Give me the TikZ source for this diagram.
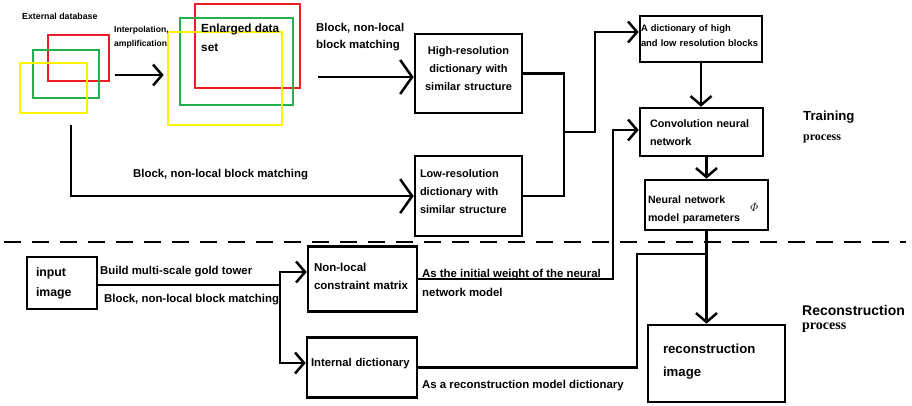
\documentclass[tikz,border=0pt]{standalone}
\usepackage{amsmath}
\usepackage{fontspec}
\setmainfont{Liberation Sans}
\newfontfamily\procfont{Liberation Serif}
\usepackage{tikz}
\usetikzlibrary{positioning,calc,arrows.meta}
\definecolor{pred}{RGB}{237,28,36}
\definecolor{pgreen}{RGB}{34,177,76}
\definecolor{pyellow}{RGB}{255,242,0}
\newcommand{\fsz}[2]{\fontsize{#1}{#2}\selectfont}
\tikzset{BOX/.style={rectangle,draw,line width=2.6pt,inner sep=0pt,align=left,text height=0pt,font=\bfseries}}
\tikzset{SQUARE/.style={rectangle,line width=2.6pt,inner sep=0pt}}
\tikzset{LABEL/.style={inner sep=0pt,anchor=base west,align=left,font=\bfseries\fsz{11.4}{17}}}
\tikzset{LINE/.style={line width=2.5pt}}
\tikzset{ARROW/.style={line width=2.5pt,-{Straight Barb[length=9pt,width=21pt]}}}
\tikzset{BARROW/.style={line width=2.5pt,-{Straight Barb[length=12pt,width=34pt]}}}

\begin{document}
\begin{tikzpicture}[x=1pt,y=-1pt]
\useasboundingbox (0,0) rectangle (912,406);

% external database, enlarged set
\node[LABEL,font=\bfseries\fsz{8.8}{10}] (n_ext_lbl) at (22,20) {External database};
\node[SQUARE,draw=pred,minimum width=61pt,minimum height=46pt] (n_ext_r) at (78.5,58) {};
\node[SQUARE,draw=pgreen,minimum width=66pt,minimum height=48pt] (n_ext_g) at (66,74) {};
\node[SQUARE,draw=pyellow,minimum width=67pt,minimum height=50pt] (n_ext_y) at (53.5,88) {};

\node[SQUARE,draw=pred,minimum width=105pt,minimum height=84pt] (n_big_r) at (247.5,46) {};
\node[SQUARE,draw=pgreen,minimum width=113pt,minimum height=87pt] (n_big_g) at (236.5,61.5) {};
\node[SQUARE,draw=pyellow,minimum width=114pt,minimum height=93pt] (n_big_y) at (225,78.5) {};
\node[LABEL,font=\bfseries\fsz{11.8}{19}] (n_big_lbl) at (201,52) {Enlarged data\\set};

\coordinate (c_interp_0) at (115,75);
\draw[ARROW] (c_interp_0) -- ($(c_interp_0 -| n_big_y.west)+(-3,0)$);
\node[LABEL,font=\bfseries\fsz{8.6}{14}] (n_interp_lbl) at (114,47) {Interpolation,\\amplification};

% dictionaries
\node[BOX,minimum width=107pt,minimum height=79pt,text width=99pt,align=center,text depth=37pt,font=\bfseries\fsz{11}{18}] (n_hr) at (468.5,73.5) {High-resolution\\dictionary with\\similar structure};
\node[BOX,minimum width=107pt,minimum height=80pt,text width=97pt,text depth=38pt,font=\bfseries\fsz{11}{18}, below=40.5pt of n_hr] (n_lr) {Low-resolution\\dictionary with\\similar structure};

\coordinate (c_blk_0) at (318,77);
\draw[BARROW] (c_blk_0) -- (c_blk_0 -| n_hr.west);
\node[LABEL] (n_blk_lbl) at (316,49) {Block, non-local\\block matching};

\coordinate (c_ext_0) at (71,125);
\draw[BARROW] (c_ext_0) |- (n_lr.west);
\node[LABEL] (n_blk2_lbl) at (133,178) {Block, non-local block matching};

% training chain
\node[BOX,minimum width=122pt,minimum height=46pt,text width=120pt,text depth=15pt,font=\bfseries\fsz{9.4}{15}] (n_dict) at (701,39) {A dictionary of high\\and low resolution blocks};
\node[BOX,minimum width=123pt,minimum height=48pt,text width=103pt,text depth=8pt,font=\bfseries\fsz{10.8}{18}] (n_cnn) at (701.5,132) {Convolution neural\\network};
\node[BOX,minimum width=123pt,minimum height=50pt,text width=117pt,text depth=4pt,font=\bfseries\fsz{10.6}{18}] (n_param) at (706.5,205) {Neural network\\model parameters};
\node[font=\fsz{12}{14}] (n_phi) at ($(n_param.east)+(-15,2)$) {$\varPhi$};

\coordinate (c_join) at (564,132);
\draw[LINE] (n_hr.east) -| (c_join) |- (n_lr.east);
\draw[ARROW] (c_join) -- ++(31,0) |- ($(n_dict.west)+(0,-7)$);
\draw[ARROW] (n_dict.south) -- (n_dict.south |- n_cnn.north);
\draw[ARROW] (n_param.north |- n_cnn.south) -- (n_param.north);

\node[LABEL,font=\bfseries\fsz{13.2}{16}] (n_train) at (803,121) {Training};
\node[LABEL,font=\procfont\bfseries\fsz{12}{14}] (n_train_p) at (803,141) {process};

\draw[line width=2.6pt,dash pattern=on 17pt off 11pt] (4,242) -- (906,242);

% reconstruction chain
\node[BOX,minimum width=70pt,minimum height=52pt,text width=52pt,text depth=14pt,font=\bfseries\fsz{12.3}{20}] (n_input) at (62,283) {input\\image};
\node[BOX,minimum width=109pt,minimum height=65pt,text width=97pt,text depth=16pt,font=\bfseries\fsz{11.5}{18}] (n_nonlocal) at (362.5,279) {Non-local\\constraint matrix};
\node[BOX,minimum width=110pt,minimum height=60pt,text width=102pt,text depth=3pt,font=\bfseries\fsz{11.3}{18}] (n_internal) at (362,367.5) {Internal dictionary};
\node[BOX,minimum width=137pt,minimum height=77pt,text width=107pt,text depth=21pt,font=\bfseries\fsz{13.2}{23}] (n_recon) at (716.5,363.5) {reconstruction\\image};

\coordinate (c_split) at (280,285);
\draw[LINE] (n_input.east |- c_split) -- (c_split);
\draw[ARROW] (c_split) |- ($(n_nonlocal.west)+(0,-7)$);
\draw[ARROW] (c_split) |- ($(n_internal.west)+(0,-4.5)$);
\node[LABEL] (n_build_lbl) at (100,274) {Build multi-scale gold tower};
\node[LABEL] (n_blk3_lbl) at (104,302) {Block, non-local block matching};

\coordinate (c_cnn_0) at (613,130);
\draw[ARROW] (n_nonlocal.east) -| (c_cnn_0) -- (c_cnn_0 -| n_cnn.west);
\node[LABEL,font=\bfseries\fsz{11.4}{19}] (n_weight_lbl) at (422,296) {As the initial weight of the neural\\network model};

\coordinate (c_int_0) at (637,254);
\draw[LINE] (n_internal.east) -| (c_int_0) -- (c_int_0 -| n_param.south);
\draw[ARROW] (n_param.south) -- (n_param.south |- n_recon.north);
\node[LABEL] (n_recdict_lbl) at (422,388) {As a reconstruction model dictionary};

\node[LABEL,font=\bfseries\fsz{14}{16}] (n_rec) at (802,315) {Reconstruction};
\node[LABEL,font=\procfont\bfseries\fsz{14}{16}] (n_rec_p) at (802,329) {process};

\end{tikzpicture}
\end{document}
